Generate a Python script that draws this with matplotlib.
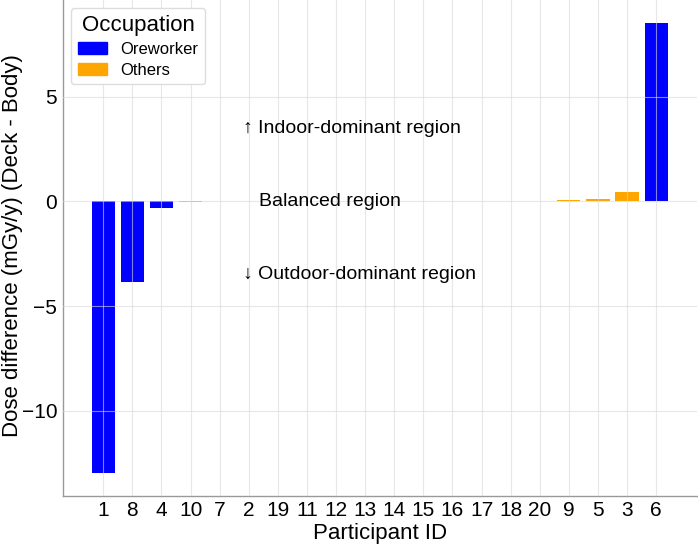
import matplotlib.pyplot as plt

plt.rcParams['font.family'] = ['Liberation Sans', 'DejaVu Sans']

participants = ['1', '8', '4', '10', '7', '2', '19', '11', '12', '13',
                '14', '15', '16', '17', '18', '20', '9', '5', '3', '6']
dose_diff = [-13.0, -3.85, -0.32, -0.04, 0, 0, 0, 0, 0, 0,
             0, 0, 0, 0, 0, 0, 0.06, 0.12, 0.44, 8.55]
occupation = ['Oreworker', 'Oreworker', 'Oreworker', 'Others', 'Others',
              'Others', 'Others', 'Others', 'Others', 'Others',
              'Others', 'Others', 'Others', 'Others', 'Others',
              'Others', 'Others', 'Others', 'Others', 'Oreworker']

colors = {'Oreworker': 'blue', 'Others': 'orange'}

fig = plt.figure(figsize=(6.98, 5.51), dpi=100)
ax = fig.add_axes([0.09, 0.1, 0.908, 0.9])

x = list(range(len(participants)))
bar_colors = [colors[o] for o in occupation]
ax.bar(x, dose_diff, width=0.8, color=bar_colors, zorder=1)

ax.set_xticks(x)
ax.set_xticklabels(participants)
ax.set_yticks([-10, -5, 0, 5])
ax.set_yticklabels(['\u221210', '\u22125', '0', '5'])
ax.tick_params(axis='both', length=0, labelsize=15, pad=4)

ax.grid(True, color='#d8d8d8', linewidth=0.8, alpha=0.6, zorder=2)
ax.set_axisbelow(False)

for s in ['top', 'right']:
    ax.spines[s].set_visible(False)
for s in ['left', 'bottom']:
    ax.spines[s].set_color('#999999')
    ax.spines[s].set_linewidth(1.0)

ax.set_xlabel('Participant ID', fontsize=16, labelpad=2)
ax.set_ylabel('Dose difference (mGy/y) (Deck - Body)', fontsize=16)
ax.yaxis.set_label_coords(-0.063, 0.505)

ax.text(4.8, 3.5, '\u2191 Indoor-dominant region', fontsize=14,
        va='center', ha='left')
ax.text(5.35, 0, 'Balanced region', fontsize=14, va='center', ha='left')
ax.text(4.8, -3.5, '\u2193 Outdoor-dominant region', fontsize=14,
        va='center', ha='left')

handles = [plt.Rectangle((0, 0), 1, 1, color=colors[k]) for k in ['Oreworker', 'Others']]
leg = ax.legend(handles, ['Oreworker', 'Others'], title='Occupation', loc='upper left',
                fontsize=12, title_fontsize=16, handlelength=1.75,
                labelspacing=0.35, borderaxespad=0.5, framealpha=1)
leg.get_frame().set_edgecolor('#dddddd')

fig.savefig('out.png', dpi=100)
